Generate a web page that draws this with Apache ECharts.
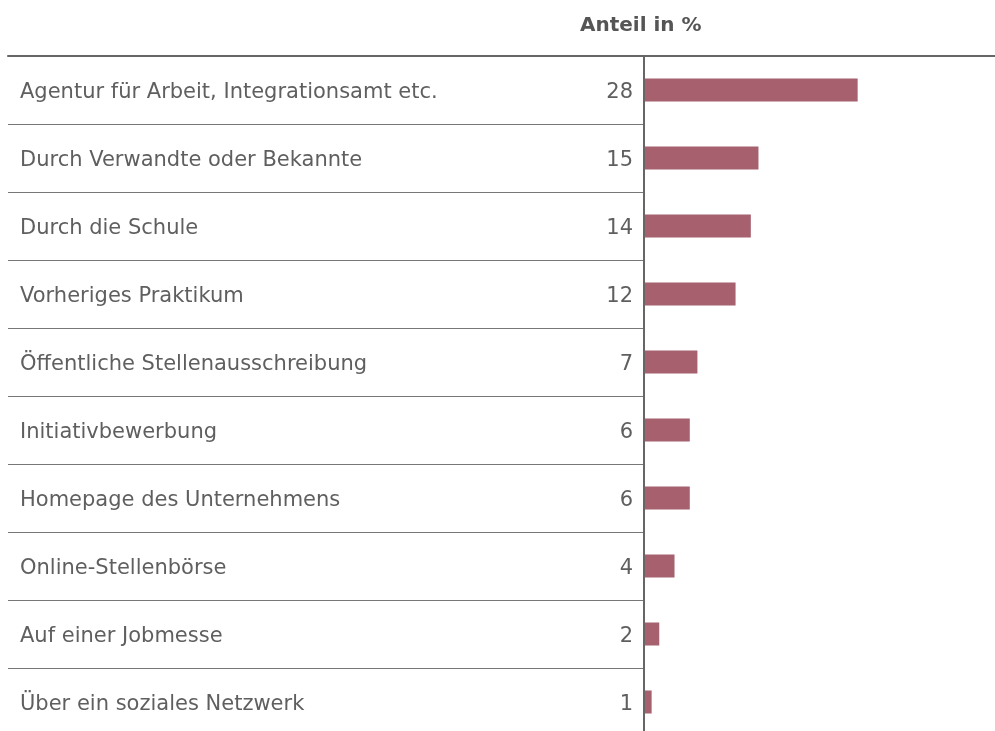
<!DOCTYPE html>
<html>
<head>
<meta charset="utf-8">
<script src="https://cdn.jsdelivr.net/npm/echarts@6/dist/echarts.min.js"></script>
<style>
	html, body { margin: 0; padding: 0; background: #fff; overflow: hidden; }
	#chart { width: 995px; height: 736px; }
</style>
</head>
<body>
<div id="chart"></div>
<script>
var categories = [
	"Agentur für Arbeit, Integrationsamt etc.",
	"Durch Verwandte oder Bekannte",
	"Durch die Schule",
	"Vorheriges Praktikum",
	"Öffentliche Stellenausschreibung",
	"Initiativbewerbung",
	"Homepage des Unternehmens",
	"Online-Stellenbörse",
	"Auf einer Jobmesse",
	"Über ein soziales Netzwerk"
];
var anteil = [28, 15, 14, 12, 7, 6, 6, 4, 2, 1];
var headerText = "Anteil in %";

var chart = echarts.init(document.getElementById('chart'));
var txtColor = "#5f5f5f";
var font = "'DejaVu Sans', sans-serif";

chart.setOption({
	animation: false,
	title: {
		text: headerText,
		left: 575,
		top: 11,
		textStyle: { fontFamily: font, fontSize: 20, fontWeight: 'bold', color: '#555' }
	},
	grid: [
		// Balken rechts
		{ left: 644, top: 56, right: 0, bottom: 0 },
		// Beschriftungsbereich links
		{ left: 8, top: 56, width: 636, bottom: 0 }
	],
	xAxis: [
		{
			gridIndex: 0, type: 'value', min: 0, max: 46, position: 'top',
			axisLine: { show: true, lineStyle: { color: '#666', width: 2 } },
			axisTick: { show: false }, axisLabel: { show: false }, splitLine: { show: false }
		},
		{
			gridIndex: 1, type: 'value', min: 0, max: 1, position: 'top',
			axisLine: { show: true, lineStyle: { color: '#666', width: 2 } },
			axisTick: { show: false }, axisLabel: { show: false }, splitLine: { show: false }
		}
	],
	yAxis: [
		{
			gridIndex: 0, type: 'category', data: categories, inverse: true, z: 5,
			axisLine: { show: true, lineStyle: { color: '#666', width: 2 } },
			axisTick: { show: false }, axisLabel: { show: false },
			splitLine: { show: false }
		},
		{
			gridIndex: 1, type: 'category', data: categories, inverse: true,
			axisLine: { show: false },
			axisTick: { show: false },
			axisLabel: {
				inside: true, margin: 12,
				formatter: '{t|{value}}',
				rich: { t: { fontFamily: font, fontSize: 21, color: txtColor, padding: [6, 0, 0, 0] } }
			},
			splitLine: { show: true, lineStyle: { color: '#777', width: 1 } }
		}
	],
	series: [{
		type: 'bar',
		xAxisIndex: 0,
		yAxisIndex: 0,
		data: anteil,
		barWidth: 23,
		itemStyle: { color: '#a6606e' },
		label: {
			show: true, position: 'left', distance: 11, offset: [0, 3],
			fontFamily: font, fontSize: 21, color: txtColor
		}
	}]
});
</script>
</body>
</html>
